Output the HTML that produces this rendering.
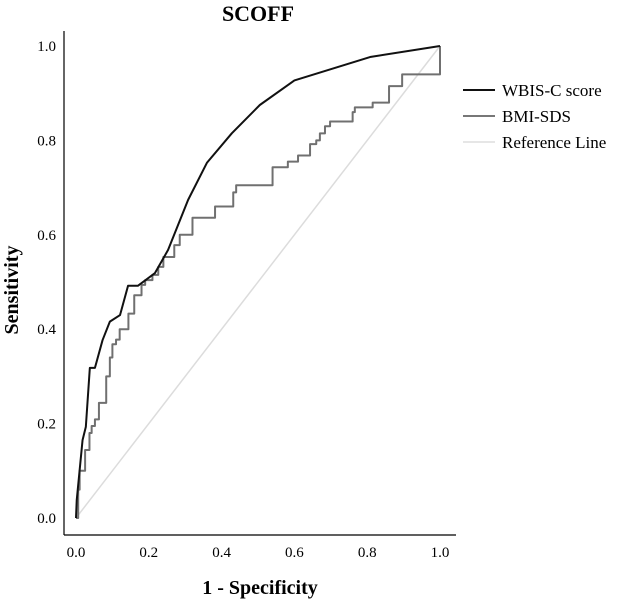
<!DOCTYPE html>
<html><head><meta charset="utf-8"><style>
html,body{margin:0;padding:0;background:#fff;}
svg{display:block;font-family:"Liberation Serif",serif;}
</style></head><body>
<svg id="chart" width="629" height="599" viewBox="0 0 629 599">
<text x="258" y="21" text-anchor="middle" font-size="22" font-weight="bold">SCOFF</text>
<line x1="64" y1="31" x2="64" y2="535" stroke="#000" stroke-width="1.2"/>
<line x1="64" y1="535" x2="456" y2="535" stroke="#000" stroke-width="1.2"/>
<g id="yticks"></g>
<g id="xticks"></g>
<text transform="translate(18,290) rotate(-90)" text-anchor="middle" font-size="20" font-weight="bold">Sensitivity</text>
<text x="260" y="594" text-anchor="middle" font-size="20" font-weight="bold">1 - Specificity</text>
<g id="series"></g>
<g>
<g><line x1="463" y1="90" x2="495" y2="90" stroke="#111" stroke-width="2"/><text x="502" y="96" font-size="17">WBIS-C score</text></g>
<g><line x1="463" y1="116" x2="495" y2="116" stroke="#777" stroke-width="2"/><text x="502" y="122" font-size="17">BMI-SDS</text></g>
<g><line x1="463" y1="142" x2="495" y2="142" stroke="#ddd" stroke-width="1.5"/><text x="502" y="148" font-size="17">Reference Line</text></g>
</g>
</svg>
<script>
const ticks = [0, 0.2, 0.4, 0.6, 0.8, 1.0];
const tickLabels = ["0.0", "0.2", "0.4", "0.6", "0.8", "1.0"];
const wbisFpr = [0, 0.002, 0.018, 0.027, 0.038, 0.052, 0.073, 0.093, 0.121, 0.143, 0.17, 0.217, 0.253, 0.308, 0.36, 0.428, 0.505, 0.60, 0.81, 1.0];
const wbisTpr = [0, 0.038, 0.165, 0.193, 0.318, 0.318, 0.377, 0.416, 0.43, 0.492, 0.492, 0.519, 0.568, 0.674, 0.753, 0.815, 0.875, 0.927, 0.977, 1.0];
const bmiFpr = [0, 0.006, 0.01, 0.025, 0.037, 0.043, 0.052, 0.063, 0.083, 0.093, 0.1, 0.11, 0.12, 0.144, 0.16, 0.18, 0.19, 0.21, 0.226, 0.24, 0.27, 0.285, 0.32, 0.382, 0.432, 0.44, 0.54, 0.582, 0.61, 0.643, 0.66, 0.67, 0.684, 0.698, 0.76, 0.766, 0.815, 0.86, 0.896, 1.0];
const bmiTpr = [0, 0.06, 0.1, 0.144, 0.18, 0.195, 0.209, 0.244, 0.3, 0.34, 0.368, 0.378, 0.4, 0.433, 0.472, 0.494, 0.504, 0.515, 0.532, 0.553, 0.578, 0.6, 0.636, 0.66, 0.69, 0.705, 0.743, 0.755, 0.768, 0.792, 0.80, 0.815, 0.83, 0.84, 0.86, 0.87, 0.88, 0.915, 0.94, 1.0];
const refFpr = [0, 1];
const refTpr = [0, 1];

const NS = "http://www.w3.org/2000/svg";
const X0 = 76, X1 = 440, Y0 = 518, Y1 = 46;
function sx(v){ return X0 + (X1 - X0) * v; }
function sy(v){ return Y0 - (Y0 - Y1) * v; }

const yg = document.getElementById('yticks');
const xg = document.getElementById('xticks');
ticks.forEach((t, i) => {
  const ty = document.createElementNS(NS, 'text');
  ty.setAttribute('x', 56); ty.setAttribute('y', sy(t) + 5);
  ty.setAttribute('text-anchor', 'end'); ty.setAttribute('font-size', '15');
  ty.textContent = tickLabels[i];
  
  
  yg.appendChild(ty);
  const tx = document.createElementNS(NS, 'text');
  tx.setAttribute('x', sx(t)); tx.setAttribute('y', 557);
  tx.setAttribute('text-anchor', 'middle'); tx.setAttribute('font-size', '15');
  tx.textContent = tickLabels[i];
  
  
  xg.appendChild(tx);
});

const sg = document.getElementById('series');
function addPath(d, color, w, name){
  const p = document.createElementNS(NS, 'path');
  p.setAttribute('d', d); p.setAttribute('fill', 'none');
  p.setAttribute('stroke', color); p.setAttribute('stroke-width', w);
  p.setAttribute('stroke-linejoin', 'round');
  
  
  sg.appendChild(p);
}
addPath(refFpr.map((v,i)=>(i?'L':'M')+sx(v)+','+sy(refTpr[i])).join(''), '#dcdcdc', 1.5, 'reference-line');
let bd = 'M' + sx(bmiFpr[0]) + ',' + sy(bmiTpr[0]);
for (let i = 1; i < bmiFpr.length; i++) {
  bd += 'L' + sx(bmiFpr[i]) + ',' + sy(bmiTpr[i-1]) + 'L' + sx(bmiFpr[i]) + ',' + sy(bmiTpr[i]);
}
addPath(bd, '#707070', 2, 'bmi-sds-curve');
addPath(wbisFpr.map((v,i)=>(i?'L':'M')+sx(v)+','+sy(wbisTpr[i])).join(''), '#111', 2, 'wbis-c-score-curve');
</script>
</body></html>
